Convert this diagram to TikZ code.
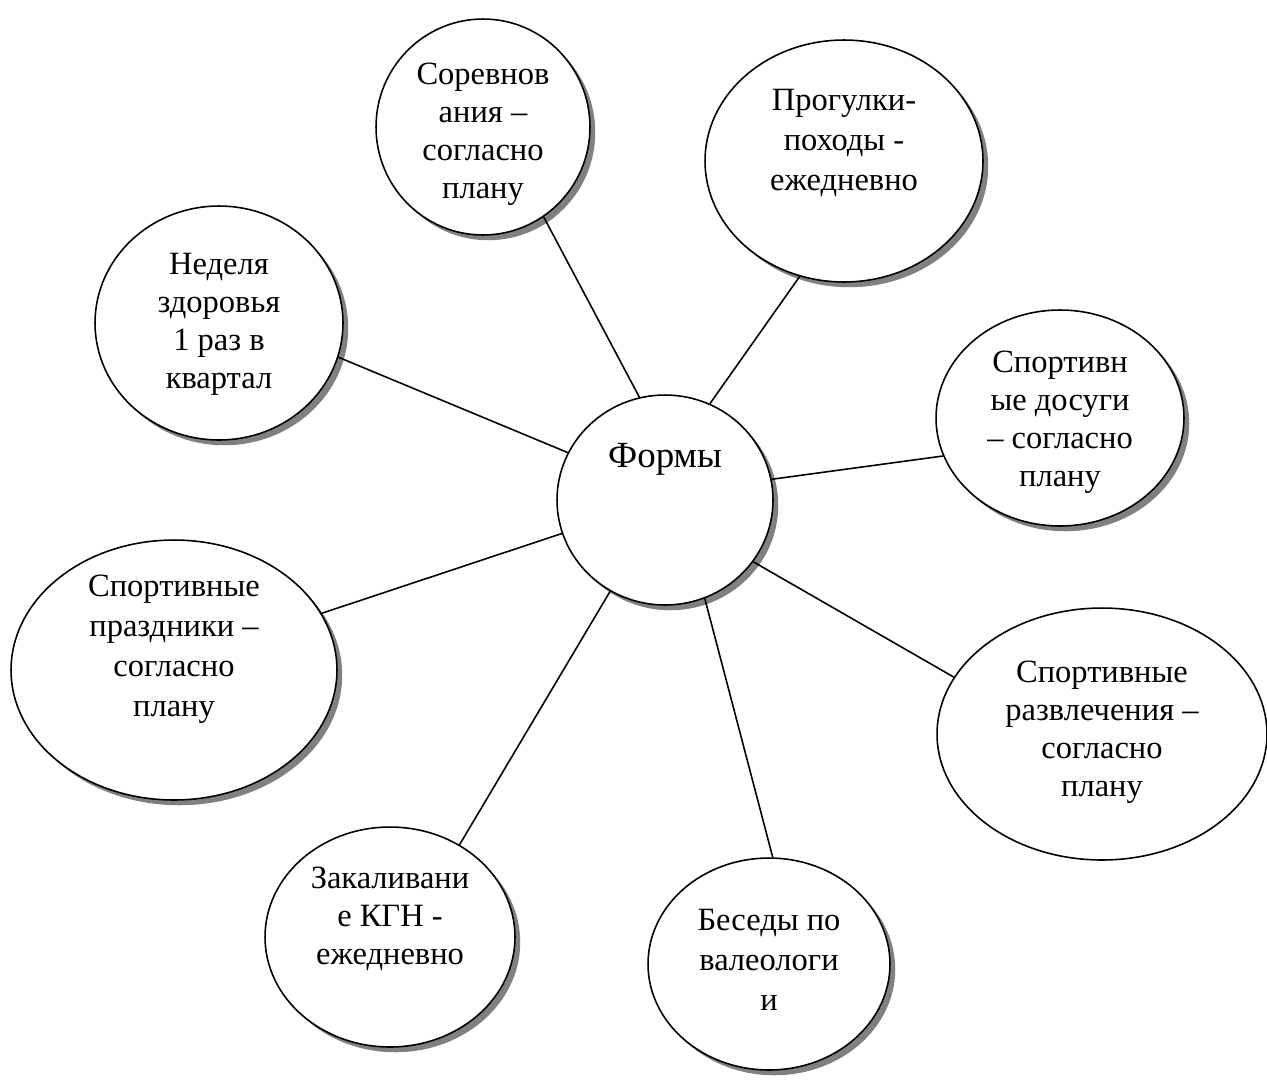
\documentclass[tikz,border=0pt]{standalone}
\usepackage{fontspec}
\setmainfont{Liberation Serif}
\usetikzlibrary{shapes.geometric,shadows}
\tikzset{
  bub/.style 2 args={ellipse, draw=black, line width=0.9pt, fill=white,
    minimum width=#1, minimum height=#2, inner sep=0pt},
  shad/.style={drop shadow={shadow xshift=3pt, shadow yshift=-3pt, fill=black!50, opacity=1}},
  txt/.style={align=center, inner sep=0pt, font=\fontsize{18.5}{21.6}\selectfont},
  txtw/.style={align=center, inner sep=0pt, font=\fontsize{18.5}{22.8}\selectfont},
  conn/.style={line width=0.9pt, draw=black}
}
\begin{document}
\begin{tikzpicture}[x=0.02cm,y=-0.02cm]
\useasboundingbox (0,0) rectangle (1267,1079);
\clip (0,0) rectangle (1267,1079);
% bubbles
\node[bub={4.32cm}{4.2cm}, shad] (formy) at (665,500) {};
\node[bub={4.28cm}{4.32cm}, shad] (sor) at (483,127) {};
\node[bub={5.56cm}{4.84cm}, shad] (prog) at (844,161) {};
\node[bub={4.96cm}{4.68cm}, shad] (ned) at (219,323) {};
\node[bub={4.96cm}{4.32cm}, shad] (dos) at (1060,418) {};
\node[bub={6.52cm}{5.2cm}, shad] (pra) at (174,670) {};
\node[bub={6.6cm}{5.04cm}] (raz) at (1102,734) {};
\node[bub={4.84cm}{4.24cm}, shad] (bes) at (769,964) {};
\node[bub={5.0cm}{4.4cm}, shad] (zak) at (390,937) {};
% texts
\node[inner sep=0pt, font=\fontsize{21}{25}\selectfont] (tformy) at (665,459) {Формы};
\node[txt] (tsor) at (483,134) {Соревнов\\ания –\\согласно\\плану};
\node[txtw] (tprog) at (844,143) {Прогулки-\\походы -\\ежедневно};
\node[txt] (tned) at (219,324) {Неделя\\здоровья\\1 раз в\\квартал};
\node[txt] (tdos) at (1060,422) {Спортивн\\ые досуги\\– согласно\\плану};
\node[txtw] (tpra) at (174,649) {Спортивные\\праздники –\\согласно\\плану};
\node[txt] (traz) at (1102,732) {Спортивные\\развлечения –\\согласно\\плану};
\node[txtw] (tbes) at (769,960) {Беседы по\\валеологи\\и};
\node[txt] (tzak) at (390,919) {Закаливани\\е КГН -\\ежедневно};
% connectors
\draw[conn] (ned.-16.8) -- (formy.154.9);
\draw[conn] (sor.-56.3) -- (formy.104.8);
\draw[conn] (prog.-111.3) -- (formy.65);
\draw[conn] (dos.198) -- (formy.11.5);
\draw[conn] (pra.21.1) -- (formy.198.6);
\draw[conn] (raz.159.4) -- (formy.-35.8);
\draw[conn] (bes.88.4) -- (formy.-68.6);
\draw[conn] (zak.53.7) -- (formy.-121.4);
\end{tikzpicture}
\end{document}
